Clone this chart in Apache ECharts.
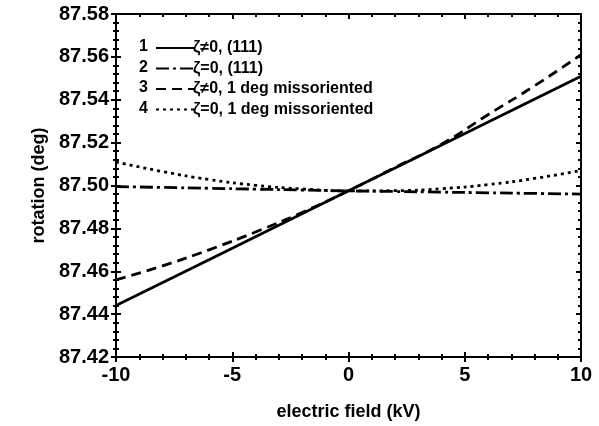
<!DOCTYPE html>
<html>
<head>
<meta charset="utf-8">
<script src="https://cdn.jsdelivr.net/npm/echarts@6/dist/echarts.min.js"></script>
<style>
html, body { margin: 0; padding: 0; background: #fff; }
#main { width: 599px; height: 426px; }
</style>
</head>
<body>
<div id="main"></div>
<script>
// readings, field in kV, rotation in deg
var names = ['ζ≠0, (111)', 'ζ=0, (111)', 'ζ≠0, 1 deg missoriented', 'ζ=0, 1 deg missoriented'];
var field = [-10, -8, -6, -4, -2, 0, 2, 4, 6, 8, 10];
var field1 = [-10, -6, -2, 2, 10];
var rot1 = [87.444, 87.4654, 87.4868, 87.5082, 87.551];
var rot2 = [87.4995, 87.4991, 87.4987, 87.4983, 87.4979, 87.4975, 87.4972, 87.4969, 87.4966, 87.4963, 87.496];
var rot3 = [87.456, 87.4625, 87.470, 87.4783, 87.4874, 87.4975, 87.5084, 87.5193, 87.533, 87.5465, 87.561];
var rot4 = [87.511, 87.5065, 87.5028, 87.5001, 87.4984, 87.4975, 87.4976, 87.4985, 87.5004, 87.5033, 87.507];

var font = 'Liberation Sans';
var myChart = echarts.init(document.getElementById('main'));

function pairs(xs, ys) {
	var out = [];
	for (var i = 0; i < xs.length; i++) out.push([xs[i], ys[i]]);
	return out;
}

function line(name, data, type) {
	return {
		name: name,
		type: 'line',
		data: data,
		symbol: 'none',
		smooth: true,
		lineStyle: { color: '#000', width: 2.8, type: type },
		itemStyle: { color: '#000' },
		z: 3
	};
}

var tickStyle = { color: '#000', width: 2 };

// one axis object; labels only on the first bottom / left one
function axis(kind, pos, inside, extra) {
	var a = {
		type: 'value',
		position: pos,
		axisLine: { onZero: false, lineStyle: { color: '#000', width: 2 } },
		axisTick: { inside: inside, length: 5, lineStyle: tickStyle },
		minorTick: { show: true, splitNumber: 5, length: 3, lineStyle: tickStyle },
		axisLabel: { show: false },
		splitLine: { show: false }
	};
	if (kind == 'x') { a.min = -10; a.max = 10; a.interval = 5; }
	else { a.min = 87.42; a.max = 87.58; a.interval = 0.02; }
	for (var k in extra) a[k] = extra[k];
	return a;
}

option = {
	animation: false,
	grid: { left: 116, right: 18, top: 14, bottom: 69 },
	legend: {
		orient: 'vertical',
		left: 150,
		top: 35,
		itemWidth: 38,
		itemHeight: 10,
		itemGap: 4.5,
		itemStyle: { opacity: 0 },
		textStyle: { fontFamily: font, fontSize: 16, fontWeight: 'bold', color: '#000', padding: [0, 0, 0, -6] },
		data: names
	},
	graphic: [1, 2, 3, 4].map(function (n, i) {
		return {
			type: 'text',
			left: 139,
			top: 39 + i * 20.5,
			style: { text: String(n), font: 'bold 16px ' + font, fill: '#000' }
		};
	}),
	xAxis: [
		axis('x', 'bottom', false, {
			name: 'electric field (kV)', nameLocation: 'middle', nameGap: 46,
			nameTextStyle: { fontFamily: font, fontSize: 18, fontWeight: 'bold', color: '#000' },
			axisLabel: { fontFamily: font, fontSize: 20, fontWeight: 'bold', color: '#000', margin: 8 }
		}),
		axis('x', 'bottom', true, {}),
		axis('x', 'top', true, {})
	],
	yAxis: [
		axis('y', 'left', false, {
			name: 'rotation (deg)', nameLocation: 'middle', nameGap: 68,
			nameTextStyle: { fontFamily: font, fontSize: 18, fontWeight: 'bold', color: '#000' },
			axisLabel: {
				fontFamily: font, fontSize: 20, fontWeight: 'bold', color: '#000', margin: 7,
				formatter: function (v) { return v.toFixed(2); }
			}
		}),
		axis('y', 'left', true, {}),
		axis('y', 'right', true, {})
	],
	series: [
		line(names[0], pairs(field1, rot1), 'solid'),
		line(names[1], pairs(field, rot2), [13, 4, 3, 4]),
		line(names[2], pairs(field, rot3), [10, 6]),
		line(names[3], pairs(field, rot4), [3, 4])
	]
};

myChart.setOption(option);
</script>
</body>
</html>
